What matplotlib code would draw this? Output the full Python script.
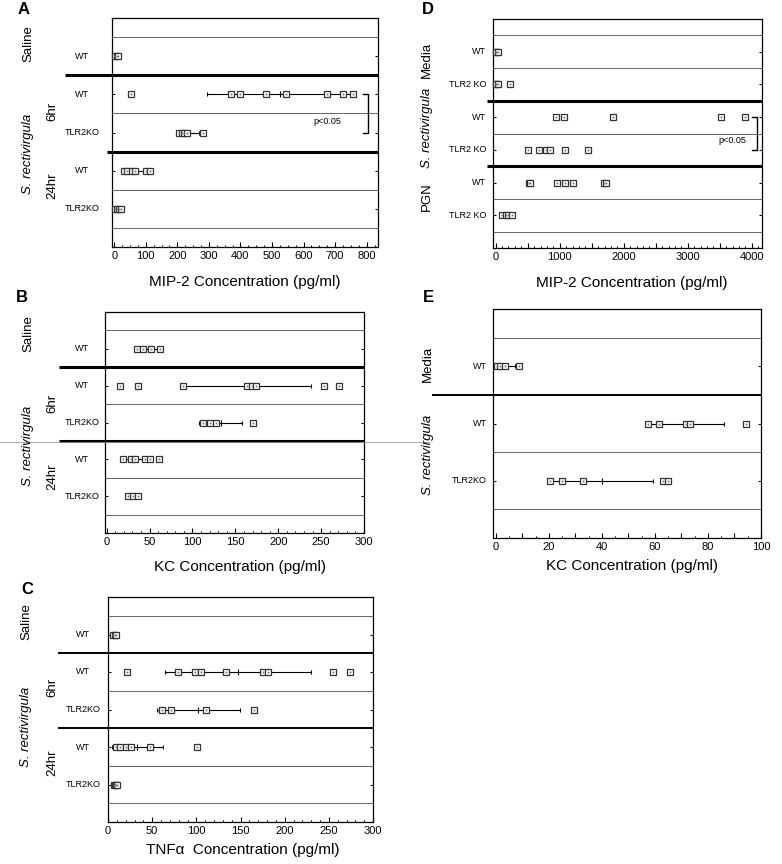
import numpy as np
import matplotlib
matplotlib.use("Agg")
import matplotlib.pyplot as plt
from matplotlib.lines import Line2D
from matplotlib.transforms import blended_transform_factory
from matplotlib.ticker import MultipleLocator, FuncFormatter

plt.rcParams['font.family'] = ['Liberation Sans', 'DejaVu Sans']

W, H = 782, 864

# ---- data (pg/ml) ----
# A: MIP-2, in vivo
a_groups = ['WT', 'WT', 'TLR2KO', 'WT', 'TLR2KO']
a_points = [
    [2, 8, 12],
    [53, 370, 400, 480, 546, 673, 726, 758],
    [206, 214, 222, 230, 282],
    [31, 41, 57, 66, 100, 115],
    [4, 8, 14, 20],
]
a_mean = [7, 525, 238, 68, 11]
a_sd = [4, 230, 32, 34, 7]

# B: KC, in vivo
b_groups = ['WT', 'WT', 'TLR2KO', 'WT', 'TLR2KO']
b_points = [
    [35, 42, 52, 62],
    [15, 37, 89, 163, 169, 174, 253, 271],
    [112, 120, 127, 170],
    [19, 28, 33, 45, 50, 61],
    [25, 31, 37],
]
b_mean = [48, 164, 133, 36, 31]
b_sd = [12, 74, 25, 15, 6]

# C: TNF-alpha, in vivo
c_groups = ['WT', 'WT', 'TLR2KO', 'WT', 'TLR2KO']
c_points = [
    [6, 8, 9],
    [22, 79, 98, 105, 134, 175, 181, 255, 274],
    [61, 71, 111, 165],
    [9, 14, 20, 26, 47, 101],
    [7, 8, 9, 10],
]
c_mean = [7.5, 147, 102, 33, 8]
c_sd = [1.5, 83, 47, 29, 2]

# D: MIP-2, in vitro (no error bars drawn)
d_groups = ['WT', 'TLR2 KO', 'WT', 'TLR2 KO', 'WT', 'TLR2 KO']
d_points = [
    [0, 10, 35],
    [0, 5, 30, 230],
    [937, 1067, 1838, 3515, 3895],
    [510, 682, 786, 849, 1083, 1437],
    [526, 540, 963, 1083, 1213, 1692, 1724],
    [100, 160, 200, 250],
]

# E: KC, in vitro
e_groups = ['WT', 'WT', 'TLR2KO']
e_points = [
    [0.3, 1.5, 3.4, 8.7],
    [57.5, 61.6, 71.6, 73.2, 94.2],
    [20.4, 25, 33, 62.9, 65],
]
e_mean = [3.5, 72, 40.2]
e_sd = [3.6, 14.2, 19.2]

fig = plt.figure(figsize=(W / 100, H / 100), dpi=100)
fig.patch.set_facecolor('white')


def px_ax(l, t, r, b):
    return fig.add_axes([l / W, 1 - b / H, (r - l) / W, (b - t) / H])


def ftext(x, y, s, **kw):
    fig.text(x / W, 1 - y / H, s, **kw)


def setup(ax, n, xlim, major, minor, label_every, thick, thin, thick_lw, ext):
    ax.set_xlim(*xlim)
    ax.set_ylim(n, -1)
    for s in ax.spines.values():
        s.set_linewidth(0.9)
    ax.xaxis.set_major_locator(MultipleLocator(major))
    ax.xaxis.set_minor_locator(MultipleLocator(minor))
    ax.xaxis.set_major_formatter(FuncFormatter(
        lambda v, p: f"{v:.0f}" if abs(v / label_every - round(v / label_every)) < 1e-6 else ""))
    ax.tick_params(axis='x', which='major', direction='in', length=3.5, width=0.8,
                   labelsize=8, pad=3)
    ax.tick_params(axis='x', which='minor', direction='in', length=1.8, width=0.7)
    ax.set_yticks(range(n))
    ax.set_yticklabels([])
    ax.tick_params(axis='y', direction='in', length=2.5, width=0.7, left=True, right=True)
    tr = blended_transform_factory(ax.transAxes, ax.transData)
    for y in thin:
        ax.plot([0, 1], [y, y], transform=tr, color='#666666', lw=0.7, zorder=1)
    for y, e in zip(thick, ext):
        ax.plot([e, 1], [y, y], transform=tr, color='black', lw=thick_lw,
                clip_on=False, zorder=3, solid_capstyle='butt')


def draw_points(ax, points, means=None, sds=None):
    for i, pts in enumerate(points):
        if means is not None and means[i] is not None:
            ax.errorbar([means[i]], [i], xerr=[sds[i]], fmt='|', color='black',
                        ms=4.5, mew=0.8, elinewidth=0.8, capsize=1.6, capthick=0.8,
                        zorder=4)
        ax.plot(pts, [i] * len(pts), 's', ms=4.2, mfc='white', mec='#333333',
                mew=0.9, zorder=5, clip_on=False)
        ax.plot(pts, [i] * len(pts), 's', ms=1.3, mfc='#777777', mec='none',
                zorder=6, clip_on=False)


def group_labels(ax, groups, x, ha):
    tr = blended_transform_factory(fig.transFigure, ax.transData)
    for i, g in enumerate(groups):
        ax.text(x / W, i, g, transform=tr, ha=ha, va='center', fontsize=6.5)


# ---- Panel A ----
axA = px_ax(112, 18, 378, 247)
setup(axA, 5, (-7, 836), 100, 25, 100, [0.5, 2.5], [-0.5, 1.5, 3.5, 4.5], 2.2,
      [-0.177, -0.019])
draw_points(axA, a_points, a_mean, a_sd)
group_labels(axA, a_groups, 82, 'center')
axA.plot([790, 805, 805, 790], [1, 1, 2, 2], color='black', lw=1.0, clip_on=False)
axA.text(675, 1.72, 'p<0.05', fontsize=6.5, ha='center', va='center')
ftext(24, 10, 'A', fontsize=12, fontweight='bold', ha='center', va='center')
ftext(245, 282, 'MIP-2 Concentration (pg/ml)', fontsize=11, ha='center', va='center')
ftext(28, 44, 'Saline', fontsize=9.5, rotation=90, ha='center', va='center')
ftext(28, 154, 'S. rectivirgula', fontsize=9.5, rotation=90, ha='center', va='center',
      style='italic')
ftext(52, 111, '6hr', fontsize=9.5, rotation=90, ha='center', va='center')
ftext(52, 186, '24hr', fontsize=9.5, rotation=90, ha='center', va='center')

# ---- Panel B ----
axB = px_ax(105, 312, 364, 533)
setup(axB, 5, (-2, 300), 50, 10, 50, [0.5, 2.5], [-0.5, 1.5, 3.5, 4.5], 2.2,
      [-0.178, -0.178])
draw_points(axB, b_points, b_mean, b_sd)
group_labels(axB, b_groups, 82, 'center')
ftext(22, 298, 'B', fontsize=12, fontweight='bold', ha='center', va='center')
ftext(240, 567, 'KC Concentration (pg/ml)', fontsize=11, ha='center', va='center')
ftext(28, 334, 'Saline', fontsize=9.5, rotation=90, ha='center', va='center')
ftext(28, 446, 'S. rectivirgula', fontsize=9.5, rotation=90, ha='center', va='center',
      style='italic')
ftext(52, 403, '6hr', fontsize=9.5, rotation=90, ha='center', va='center')
ftext(52, 477, '24hr', fontsize=9.5, rotation=90, ha='center', va='center')

# ---- Panel C ----
axC = px_ax(108, 597, 373, 822)
setup(axC, 5, (0, 300), 50, 10, 50, [0.5, 2.5], [-0.5, 1.5, 3.5, 4.5], 1.4,
      [-0.19, -0.19])
draw_points(axC, c_points, c_mean, c_sd)
group_labels(axC, c_groups, 83, 'center')
ftext(27, 590, 'C', fontsize=12, fontweight='bold', ha='center', va='center')
ftext(243, 850, 'TNF\u03b1  Concentration (pg/ml)', fontsize=11, ha='center', va='center')
ftext(26, 622, 'Saline', fontsize=9.5, rotation=90, ha='center', va='center')
ftext(26, 727, 'S. rectivirgula', fontsize=9.5, rotation=90, ha='center', va='center',
      style='italic')
ftext(52, 687, '6hr', fontsize=9.5, rotation=90, ha='center', va='center')
ftext(52, 763, '24hr', fontsize=9.5, rotation=90, ha='center', va='center')

# ---- Panel D ----
axD = px_ax(493, 19, 762, 248)
setup(axD, 6, (-42, 4160), 500, 100, 1000, [1.5, 3.5],
      [-0.5, 0.5, 2.5, 4.5, 5.5], 2.2, [-0.022, -0.022])
draw_points(axD, d_points)
group_labels(axD, d_groups, 486, 'right')
axD.plot([4000, 4078, 4078, 4000], [2, 2, 3, 3], color='black', lw=1.0, clip_on=False)
axD.text(3703, 2.72, 'p<0.05', fontsize=6.5, ha='center', va='center')
ftext(428, 10, 'D', fontsize=12, fontweight='bold', ha='center', va='center')
ftext(632, 283, 'MIP-2 Concentration (pg/ml)', fontsize=11, ha='center', va='center')
ftext(427, 60, 'Media', fontsize=9.5, rotation=90, ha='center', va='center')
ftext(427, 128, 'S. rectivirgula', fontsize=9.5, rotation=90, ha='center', va='center',
      style='italic')
ftext(427, 197, 'PGN', fontsize=9.5, rotation=90, ha='center', va='center')

# ---- Panel E ----
axE = px_ax(493, 309, 761, 538)
setup(axE, 3, (-1.1, 100), 10, 5, 20, [0.5], [-0.5, 1.5, 2.5], 1.4, [-0.228])
draw_points(axE, e_points, e_mean, e_sd)
group_labels(axE, e_groups, 487, 'right')
ftext(428, 298, 'E', fontsize=12, fontweight='bold', ha='center', va='center')
ftext(632, 566, 'KC Concentration (pg/ml)', fontsize=11, ha='center', va='center')
ftext(428, 364, 'Media', fontsize=9.5, rotation=90, ha='center', va='center')
ftext(428, 455, 'S. rectivirgula', fontsize=9.5, rotation=90, ha='center', va='center',
      style='italic')

# faint scan line crossing panel B
fig.add_artist(Line2D([0, 430 / W], [1 - 442 / H, 1 - 442 / H], color='#999999', lw=0.6))

fig.savefig('out.png', dpi=100, facecolor='white')
